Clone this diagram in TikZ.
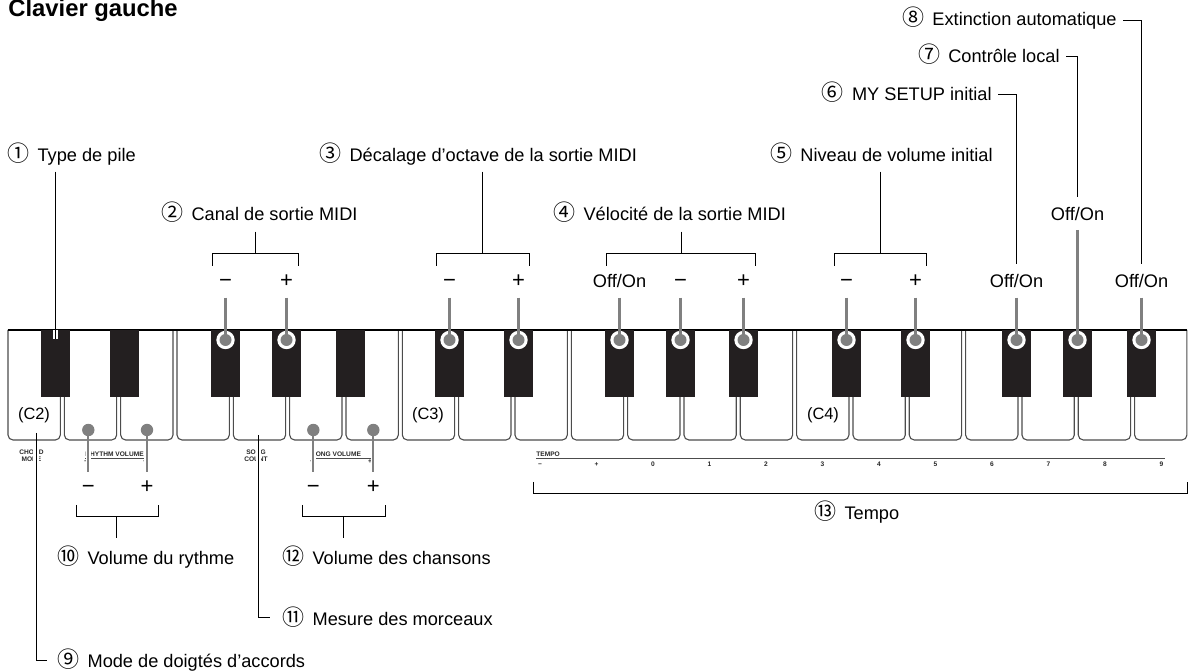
\documentclass[tikz,border=0pt]{standalone}
\usepackage{fontspec}
\setmainfont{Liberation Sans}
\newfontfamily\cjk{Noto Sans CJK JP}
\usetikzlibrary{calc}

\definecolor{keyblack}{HTML}{231F20}
\definecolor{keygray}{HTML}{808080}
\newcommand{\nb}[1]{{\cjk\fontsize{11}{11}\selectfont #1}\hspace{0.45em}}

\tikzset{
	lbl/.style={font=\fontsize{9.1}{11}\selectfont, inner sep=0pt, anchor=base west},
	lblr/.style={lbl, anchor=base east},
	sgn/.style={lbl, anchor=base},
	pm/.style={sgn, font=\fontsize{11}{11}\selectfont},
	panel/.style={font=\fontsize{3.3}{3.6}\selectfont\bfseries, inner sep=0pt, align=center, text=black!85},
	lead/.style={line width=0.5pt},
	glead/.style={line width=1.1pt, keygray},
	halo/.style={line width=2.6pt, white},
}

\begin{document}
\begin{tikzpicture}[x=0.5pt, y=-0.5pt]
	\useasboundingbox (0,0) rectangle (1199,672);
	\def\p{56.33}
	\def\kt{330}
	\def\kb{440}
	\def\oo{Off/On}

	% keyboard
	\foreach \k in {0,...,20}
		\draw[black!70, line width=0.55pt, rounded corners=2.5pt]
			({6+\p*\k+2},\kt) -- ({6+\p*\k+2},\kb) -- ({6+\p*(\k+1)-2},\kb) -- ({6+\p*(\k+1)-2},\kt);
	\draw[line width=0.7pt] (8,\kt) -- (1187,\kt);
	\foreach \c [count=\i] in {55.5,124.5,225.5,286.5,350.5,449.5,518.5,619.5,680.5,743.5,846.5,915.5,1016.5,1077.5,1141.5} {
		\fill[keyblack] (\c-14.5,\kt) rectangle (\c+14.5,397);
		\coordinate (k\i) at (\c,340);
	}
	\foreach \c/\n in {34/C2, 428/C3, 823/C4}
		\node[font=\fontsize{8.2}{10}\selectfont, inner sep=0pt, anchor=base] (\n) at (\c,420) {(\n)};

	% panel printing below the keys
	\node[panel] (chord) at (31.5,456) {CHORD\\MODE};
	\node[panel] (count) at (256,456) {SONG\\COUNT};
	\node[panel, anchor=base west] (rvol) at (85,456.5) {RHYTHM VOLUME};
	\node[panel, anchor=base west] (svol) at (311,456.5) {SONG VOLUME};
	\draw[line width=0.4pt, black!70] (85,458.8) -- (145,458.8) (311,458.8) -- (371,458.8);
	\foreach \x/\s in {86/−, 145/+, 312/−, 370/+}
		\node[panel, anchor=base] at (\x,464) {\s};
	\node[panel, anchor=base west] (tempo) at (536,456.5) {TEMPO};
	\draw[line width=0.4pt, black!70] (536,458.8) -- (1165,458.8);
	\foreach \t [count=\i from 0] in {\textbf{−},+,0,1,2,3,4,5,6,7,8,9}
		\node[panel, anchor=base] at (540+56.5*\i,467) {\t};

	% labels
	\node[font=\fontsize{11.9}{14}\selectfont\bfseries, inner sep=0pt, anchor=base west] (title) at (8,16.5) {Clavier gauche};
	\node[lbl] (l1) at (7,161.5) {\nb{①}Type de pile};
	\node[lbl] (l2) at (161,221) {\nb{②}Canal de sortie MIDI};
	\node[lbl] (l3) at (319,161.5) {\nb{③}Décalage d’octave de la sortie MIDI};
	\node[lbl] (l4) at (553,221) {\nb{④}Vélocité de la sortie MIDI};
	\node[lblr] (l5) at (993,161.5) {\nb{⑤}Niveau de volume initial};
	\node[lblr] (l6) at (992,100.7) {\nb{⑥}MY SETUP initial};
	\node[lblr] (l7) at (1060,62.7) {\nb{⑦}Contrôle local};
	\node[lblr] (l8) at (1117,26) {\nb{⑧}Extinction automatique};
	\node[lbl] (l9) at (57,668) {\nb{⑨}Mode de doigtés d’accords};
	\node[lbl] (l10) at (57,565) {\nb{⑩}Volume du rythme};
	\node[lbl] (l11) at (282,625.5) {\nb{⑪}Mesure des morceaux};
	\node[lbl] (l12) at (282,565) {\nb{⑫}Volume des chansons};
	\node[lbl] (l13) at (814,520) {\nb{⑬}Tempo};

	% signs above the black keys
	\foreach \k/\s in {3/−, 4/+, 6/−, 7/+, 9/−, 10/+, 11/−, 12/+}
		\node[pm] (s\k) at (k\k |- 0,288) {\s};
	\foreach \k in {8, 13, 15}
		\node[sgn] (s\k) at (k\k |- 0,288) {\oo};
	\node[sgn] (s14) at (k14 |- 0,221) {\oo};

	% brackets
	\foreach \a/\b/\m/\t in {212.7/298.3/255.7/231.7, 436.7/529/482.3/171.7, 606/755/681/231.7, 834/926.7/880/171.7} {
		\draw[lead] (\a,266) |- (\b,253.3) -- (\b,266);
		\draw[lead] (\m,\t) -- (\m,253.3);
	}
	\draw[lead] (76.7,505) |- (158.7,516.7) -- (158.7,505);
	\draw[lead] (116.7,516.7) -- (116.7,538.3);
	\draw[lead] (302.7,505) |- (385,516.7) -- (385,505);
	\draw[lead] (343.3,516.7) -- (343.3,538.3);
	\draw[lead] (533.3,482) |- (1187.3,494) -- (1187.3,482);

	% leaders
	\draw[halo, line width=2.2pt] (55.5,\kt) -- (55.5,339);
	\draw[lead] (55.5,171.7) -- (55.5,339);
	\draw[lead] ([xshift=3pt, yshift=-1pt]l6.east) -| ([yshift=5pt]s13.north);
	\draw[lead] ([xshift=3pt, yshift=-1pt]l7.east) -| ([yshift=5pt]s14.north);
	\draw[lead] ([xshift=3pt, yshift=-1pt]l8.east) -| ([yshift=5pt]s15.north);
	\foreach \x in {36, 258.3, 88.3, 147, 313.3, 373.3}
		\draw[halo] (\x,446) -- (\x,470);
	\draw[lead] (36,433) |- ([xshift=-5pt]l9.west);
	\draw[lead] (258.3,435) |- ([xshift=-6pt]l11.west);

	% markers on the black keys
	\foreach \k in {3,4,6,7,8,9,10,11,12,13,14,15}
		\fill[white] (k\k) circle (9.2);
	\foreach \k in {3,4,6,7,8,9,10,11,12,13,15}
		\draw[glead] (k\k |- 0,297.7) -- (k\k);
	\draw[glead] (k14 |- 0,230) -- (k14);
	\foreach \k in {3,4,6,7,8,9,10,11,12,13,14,15}
		\fill[keygray] (k\k) circle (6);

	% markers on the white keys
	\foreach \x/\s [count=\i] in {88.3/−, 147/+, 313.3/−, 373.3/+} {
		\coordinate (w\i) at (\x,430);
		\node[pm] (b\i) at (\x,494) {\s};
		\draw[glead] (w\i) -- (\x,471.7);
		\fill[keygray] (w\i) circle (6.2);
	}
\end{tikzpicture}
\end{document}
